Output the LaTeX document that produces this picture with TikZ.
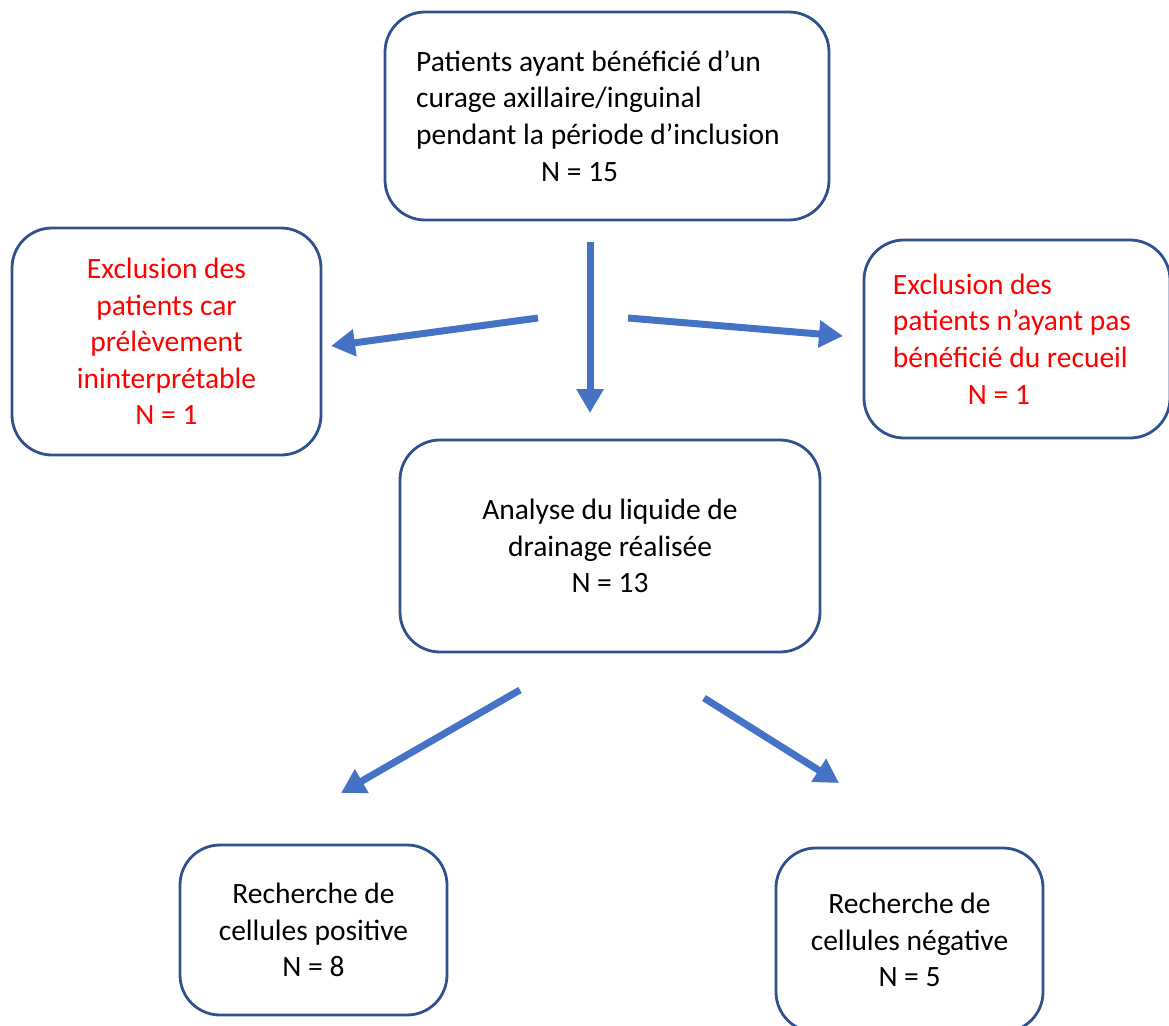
\documentclass[tikz,border=0pt]{standalone}
\usepackage{fontspec}
\setmainfont{Carlito}
\usetikzlibrary{arrows.meta}
\definecolor{boxline}{HTML}{2F528F}
\definecolor{arrowblue}{HTML}{4472C4}
\definecolor{exred}{HTML}{FF0000}
\begin{document}
\begin{tikzpicture}[x=1pt,y=-1pt,
  box/.style={draw=boxline,line width=2.8pt,rounded corners=40pt,inner sep=0pt,
    font=\fontsize{29.5}{36.6}\selectfont},
  flow/.style={draw=arrowblue,line width=7pt,-{Triangle[length=24pt,width=26pt]}}]
\useasboundingbox (0,0) rectangle (1169,1025);
\node[box,minimum width=444pt,minimum height=208pt,align=left] (top) at (607,116)
  {Patients ayant bénéficié d’un\\curage axillaire/inguinal\\pendant la période d’inclusion\rule{18pt}{0pt}\\\hspace*{125pt}N = 15};
\node[box,minimum width=309pt,minimum height=227pt,align=center,text=exred] (left) at (166.5,341.5)
  {Exclusion des\\patients car\\prélèvement\\ininterprétable\\N = 1};
\node[box,minimum width=306pt,minimum height=198pt,align=left,text=exred] (right) at (1017,339)
  {Exclusion des\\patients n’ayant pas\rule{10pt}{0pt}\\bénéficié du recueil\\\hspace*{75pt}N = 1};
\node[box,minimum width=420pt,minimum height=212pt,align=center] (mid) at (610,546)
  {Analyse du liquide de\\drainage réalisée\\N = 13};
\node[box,minimum width=267pt,minimum height=170pt,align=center] (pos) at (313.5,930)
  {Recherche de\\cellules positive\\N = 8};
\node[box,minimum width=267pt,minimum height=184pt,align=center] (neg) at (909.5,940)
  {Recherche de\\cellules négative\\N = 5};
\coordinate (a1s) at (590,242); \coordinate (a1e) at (590,413);
\coordinate (a2s) at (538,318); \coordinate (a2e) at (331,346);
\coordinate (a3s) at (628,318); \coordinate (a3e) at (843,336);
\coordinate (a4s) at (520,690); \coordinate (a4e) at (341,793);
\coordinate (a5s) at (704,698); \coordinate (a5e) at (839,783);
\draw[flow] (a1s) -- (a1e);
\draw[flow] (a2s) -- (a2e);
\draw[flow] (a3s) -- (a3e);
\draw[flow] (a4s) -- (a4e);
\draw[flow] (a5s) -- (a5e);
\end{tikzpicture}
\end{document}
